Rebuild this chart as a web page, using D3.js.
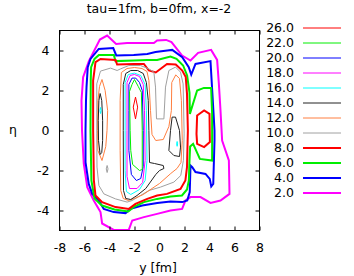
<!DOCTYPE html>
<meta charset="utf-8">
<script src="https://d3js.org/d3.v7.min.js"></script>
<style>
body { margin: 0; background: #fff; }
text { font-family: "DejaVu Sans", sans-serif; font-size: 12.5px; fill: #000; }
</style>
<div id="chart"></div>
<script>
// contour levels as listed in the key, top to bottom
var levels = [26, 22, 20, 18, 16, 14, 12, 10, 8, 6, 4, 2];
var levelColors = ["#ff0000", "#00ee00", "#0000ff", "#ff00ff", "#00ffff", "#222222",
                   "#ff7f40", "#a0a0a0", "#ff0000", "#00ee00", "#0000ff", "#ff00ff"];
var levelWidths = [1, 1, 1, 1, 1, 1, 1, 1, 2, 2, 2, 2];

var xTicks = [-8, -6, -4, -2, 0, 2, 4, 6, 8];
var yTicks = [-4, -2, 0, 2, 4];

// contour lines: closed loops of [y (fm), eta]
var level2 = [
  [[-6.24,1.5],[-6.11,2.67],[-5.65,3.47],[-4.77,4.55],[-4.19,4.75],[-3.47,4.33],[-2.59,4.37],
   [-0.45,4.37],[-0.19,4.5],[0.53,4.53],[0.96,4.42],[1.81,3.75],[2.48,3.5],[3.09,3.88],
   [4.13,4.03],[4.61,3.53],[4.75,2.33],[4.88,1.0],[5.01,-0.5],[5.55,-1.5],[5.6,-3.17],
   [4.88,-3.5],[4.08,-3.62],[3.28,-3.33],[2.48,-3.33],[2.08,-3.5],[1.81,-3.92],[0.88,-4.0],
   [-0.19,-4.17],[-1.25,-4.33],[-2.18,-4.5],[-2.46,-4.97],[-3.66,-4.97],[-4.59,-4.65],
   [-4.72,-4.08],[-5.26,-3.5],[-5.78,-2.84],[-6.06,-1.65],[-6.2,0]]
];
var level4 = [
  [[-5.92,0],[-5.88,1.5],[-5.84,2.17],[-5.74,3.17],[-5.52,3.58],[-4.86,4.08],[-3.7,4.12],
   [-3.46,3.75],[-2.06,3.78],[-0.98,3.83],[-0.32,3.92],[0.62,4.0],[1.02,4.03],[1.82,3.67],
   [2.34,3.17],[2.54,2.8],[2.88,3.33],[4.08,3.47],[4.34,0.67],[4.4,0],[4.4,-0.5],[4.3,-2.67],
   [4.14,-2.8],[4.02,-2.42],[3.68,-2.17],[2.88,-2.08],[2.62,-1.83],[2.48,-1.75],[2.42,-3.08],
   [2.22,-3.5],[1.82,-3.58],[0.88,-3.55],[-0.18,-3.63],[-1.38,-3.75],[-2.32,-3.92],
   [-2.72,-4.13],[-3.66,-4.08],[-4.46,-3.92],[-4.86,-3.5],[-5.38,-3.17],[-5.66,-2.67],
   [-5.92,-1.58]]
];
var level6 = [
  [[-5.52,0],[-5.5,2.5],[-5.47,3.17],[-5.2,3.58],[-4.85,3.78],[-3.65,3.78],[-3.52,3.47],
   [-2.05,3.5],[-0.99,3.53],[-0.19,3.53],[0.88,3.7],[1.36,3.58],[1.89,3.25],[2.21,2.75],
   [2.4,1.9],[2.43,0.83],[3.01,2.0],[3.55,2.13],[4.13,2.13],[4.21,0.83],[4.21,-1.5],
   [3.23,-1.42],[2.69,-0.67],[2.45,-0.8],[2.4,-1.5],[2.35,-2.5],[2.2,-2.95],[1.8,-3.25],
   [0.88,-3.3],[-0.19,-3.42],[-1.25,-3.58],[-2.0,-3.8],[-2.5,-4.05],[-3.6,-3.95],
   [-4.6,-3.75],[-5.2,-3.4],[-5.45,-2.5]]
];
var level8 = [
  [[-5.31,0],[-5.31,2.5],[-5.12,3.42],[-4.72,3.58],[-3.52,3.53],[-3.39,3.3],[-2.05,3.33],
   [-1.25,3.33],[-0.85,3.0],[-0.3,2.9],[0.6,3.33],[1.3,3.3],[1.82,3.0],[2.1,2.67],
   [2.2,1.83],[2.27,0],[2.2,-1.83],[2.07,-2.5],[1.68,-2.92],[0.6,-3.17],[-0.19,-3.25],
   [-0.98,-3.42],[-1.92,-3.67],[-2.45,-3.92],[-3.52,-3.83],[-4.59,-3.58],[-5.12,-3.25],
   [-5.25,-2.5]],
  [[3.01,0.75],[3.57,1.0],[4.0,0.83],[4.03,-0.58],[3.57,-0.83],[3.01,-0.67],[2.96,-0.17]]
];
var level10 = [
  [[-5.02,-0.17],[-5.02,2.33],[-4.72,2.97],[-3.92,3.12],[-3.39,3.0],[-3.12,3.08],[-2.45,3.25],
   [-1.52,3.25],[-0.85,3.08],[-0.45,2.92],[-0.32,2.17],[-0.24,0.58],[0.35,0.58],[0.48,2.17],
   [0.75,3.0],[1.28,3.17],[1.68,2.92],[1.89,2.33],[1.97,-0.17],[1.91,-1.5],[1.7,-2.25],
   [1.15,-2.58],[0.08,-2.83],[-0.85,-3.0],[-1.52,-3.25],[-2.19,-3.5],[-2.59,-3.58],
   [-3.52,-3.42],[-4.45,-3.17],[-4.85,-2.75],[-5.0,-1.83]],
  [[-4.19,-1.75],[-4.12,-1.92],[-4.19,-2.1],[-4.26,-1.92]]
];
var level12 = [
  [[-4.6,2.55],[-4.35,2.0],[-4.15,1.0],[-4.2,0],[-4.3,-0.8],[-4.6,-1.5],[-4.93,-1.0],
   [-4.95,0],[-4.93,1.5],[-4.8,2.2]],
  [[-3.15,1.5],[-3.05,2.9],[-2.6,3.1],[-2.0,3.15],[-1.4,3.1],[-1.0,2.95],[-0.85,2.5],
   [-0.72,1.0],[-0.6,-0.2],[-0.3,-0.5],[0.3,-0.45],[0.75,0.2],[0.95,1.0],[0.98,2.4],
   [1.3,2.78],[1.6,2.6],[1.75,1.5],[1.82,-0.5],[1.72,-1.6],[1.4,-1.9],[0.9,-2.15],[0.0,-2.65],
   [-0.6,-2.9],[-1.3,-3.2],[-2.0,-3.4],[-2.5,-3.5],[-2.9,-3.4],[-3.1,-3.0],[-3.15,-1.0]]
];
var level14 = [
  [[-4.75,1.85],[-4.62,1.5],[-4.55,0.5],[-4.55,-0.5],[-4.62,-1.1],[-4.75,-1.2],[-4.88,-0.5],
   [-4.9,0.5],[-4.85,1.5]],
  [[-2.9,2.3],[-2.7,2.85],[-2.3,3.0],[-1.75,3.0],[-1.3,2.85],[-1.05,2.4],[-0.9,1.5],
   [-0.85,0],[-0.8,-1.6],[-0.4,-1.65],[0.3,-1.75],[0.35,-1.9],[0.0,-2.0],[-0.3,-2.2],
   [-1.1,-2.9],[-1.8,-3.25],[-2.3,-3.45],[-2.7,-3.4],[-2.88,-3.0],[-2.9,0]],
  [[1.01,0.67],[0.88,0],[0.75,-1.0],[1.15,-1.25],[1.6,-1.3],[1.68,-0.83],[1.6,0],[1.28,0.67]]
];
var level16 = [
  [[-4.72,1.15],[-4.67,1.0],[-4.72,0.85],[-4.77,1.0]],
  [[-2.75,2.4],[-2.5,2.8],[-2.0,2.87],[-1.5,2.75],[-1.15,2.3],[-1.05,1.0],[-1.0,-1.5],
   [-1.15,-2.5],[-1.6,-2.95],[-2.3,-3.2],[-2.65,-3.05],[-2.75,-2.0],[-2.75,0]],
  [[1.41,-0.55],[1.45,-0.67],[1.41,-0.79],[1.37,-0.67]]
];
var level18 = [
  [[-2.6,2.4],[-2.35,2.75],[-2.0,2.8],[-1.6,2.7],[-1.3,2.3],[-1.2,1.0],[-1.15,-1.5],
   [-1.35,-2.6],[-1.8,-2.9],[-2.4,-2.9],[-2.6,-2.3],[-2.6,0]]
];
var level20 = [
  [[-2.45,2.3],[-2.2,2.62],[-1.9,2.62],[-1.6,2.4],[-1.38,2.0],[-1.3,0],[-1.3,-1.8],
   [-1.5,-2.4],[-1.85,-2.5],[-2.25,-2.2],[-2.45,-1.0],[-2.45,1.0]]
];
var level22 = [
  [[-2.0,2.55],[-1.7,2.2],[-1.45,1.9],[-1.38,0],[-1.38,-1.95],[-1.6,-2.0],[-2.15,-1.7],
   [-2.3,-1.0],[-2.35,0],[-2.4,1.95],[-2.2,2.3]]
];
var level26 = [
  [[-1.92,1.67],[-1.75,1.17],[-1.92,0.58],[-2.1,1.17]]
];
var levelLines = [level26, level22, level20, level18, level16, level14,
                  level12, level10, level8, level6, level4, level2];

var svg = d3.select("#chart").append("svg")
    .attr("width", 354)
    .attr("height", 276);

var x = d3.scaleLinear().domain([-8, 8]).range([59.5, 259.5]);
var y = d3.scaleLinear().domain([-5, 5]).range([230.5, 30.5]);

var line = d3.line()
    .x(function(d) { return x(d[0]); })
    .y(function(d) { return y(d[1]); })
    .curve(d3.curveLinearClosed);

// contour lines, outer levels drawn first
var contours = svg.append("g");
for (var i = levels.length - 1; i >= 0; i--) {
    contours.selectAll(null)
        .data(levelLines[i])
        .enter().append("path")
        .attr("d", line)
        .attr("fill", "none")
        .attr("stroke", levelColors[i])
        .attr("stroke-width", levelWidths[i]);
}

// gnuplot writes a plain hyphen for negative numbers
var plainNum = function(d) { return String(d); };

svg.append("rect")
    .attr("x", 59.5).attr("y", 30.5)
    .attr("width", 200).attr("height", 200)
    .attr("fill", "none").attr("stroke", "#000");

svg.append("g")
    .attr("transform", "translate(0,230.5)")
    .call(d3.axisBottom(x).tickValues(xTicks).tickSize(-4).tickPadding(12.5).tickFormat(plainNum))
    .call(function(g) { g.select(".domain").remove(); });
svg.append("g")
    .attr("transform", "translate(0,30.5)")
    .call(d3.axisTop(x).tickValues(xTicks).tickSize(-4).tickFormat(""))
    .call(function(g) { g.select(".domain").remove(); });
svg.append("g")
    .attr("transform", "translate(59.5,0)")
    .call(d3.axisLeft(y).tickValues(yTicks).tickSize(-4).tickPadding(10).tickFormat(plainNum))
    .call(function(g) { g.select(".domain").remove(); });
svg.append("g")
    .attr("transform", "translate(259.5,0)")
    .call(d3.axisRight(y).tickValues(yTicks).tickSize(-4).tickFormat(""))
    .call(function(g) { g.select(".domain").remove(); });

svg.selectAll(".tick text")
    .style("font-family", "DejaVu Sans, sans-serif")
    .style("font-size", "12.5px");

svg.append("text")
    .attr("x", 159).attr("y", 13)
    .attr("text-anchor", "middle")
    .text("tau=1fm, b=0fm, x=-2");

svg.append("text")
    .attr("x", 158).attr("y", 272)
    .attr("text-anchor", "middle")
    .text("y [fm]");

svg.append("text")
    .attr("x", 13).attr("y", 134)
    .attr("text-anchor", "middle")
    .text("η");

// key
var key = svg.append("g");
levels.forEach(function(lv, i) {
    var ky = 28 + 15 * i;
    key.append("text")
        .attr("x", 294).attr("y", ky)
        .attr("dy", "0.35em")
        .attr("text-anchor", "end")
        .text(lv.toFixed(1));
    key.append("line")
        .attr("x1", 303).attr("x2", 341)
        .attr("y1", ky).attr("y2", ky)
        .attr("stroke", levelColors[i])
        .attr("stroke-width", levelWidths[i]);
});
</script>
